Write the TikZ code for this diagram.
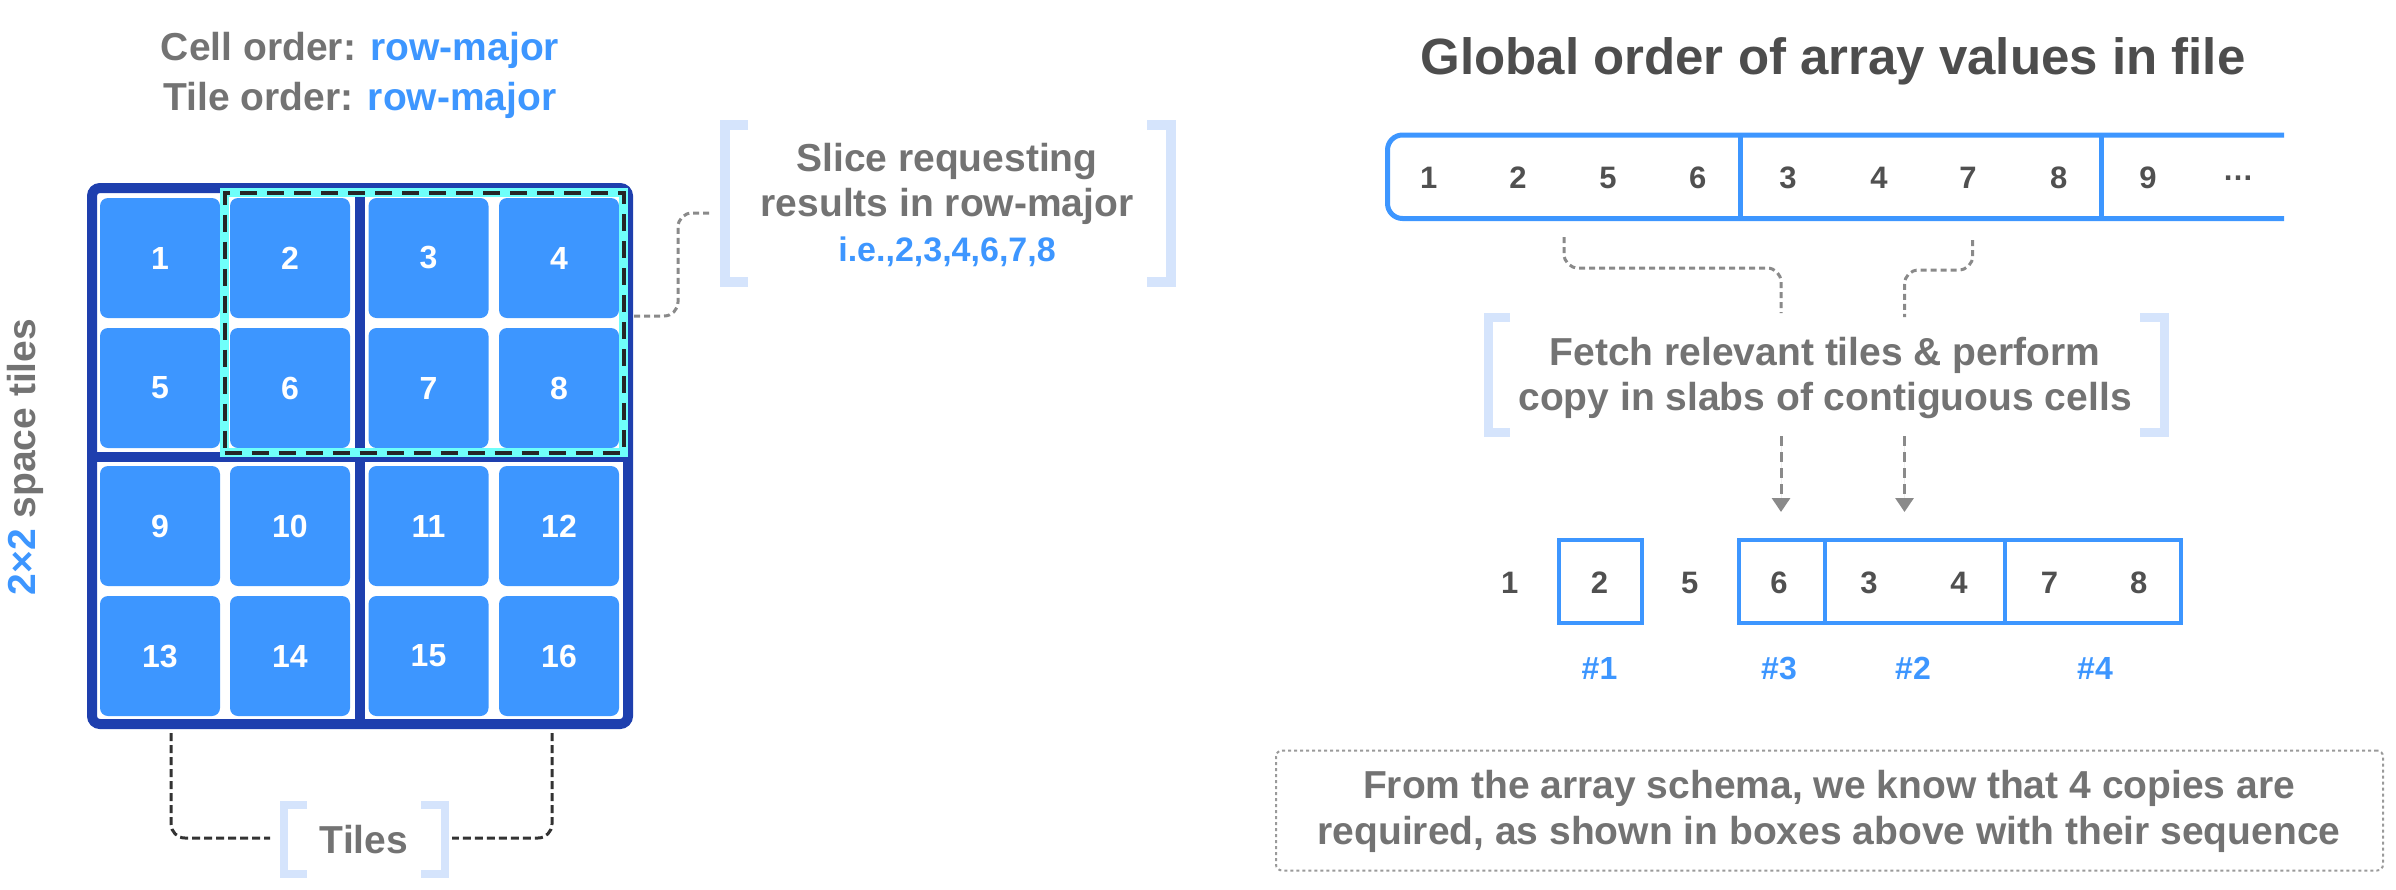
\documentclass[tikz,border=0pt]{standalone}
\usepackage{fontspec}
\setmainfont{Liberation Sans}
\usetikzlibrary{arrows.meta}
\definecolor{txtgray}{HTML}{737373}
\definecolor{titlegray}{HTML}{4D4D4D}
\definecolor{numgray}{HTML}{505050}
\definecolor{cellblue}{HTML}{3D96FF}
\definecolor{frameblue}{HTML}{1E3FAE}
\definecolor{brkblue}{HTML}{D5E4FC}
\definecolor{cyanband}{HTML}{6FFFFA}
\definecolor{conngray}{HTML}{8A8A8A}
\definecolor{darkconn}{HTML}{333333}
\definecolor{notegray}{HTML}{9A9A9A}
\tikzset{
  cell/.style={fill=cellblue, rounded corners=4pt, minimum size=60pt, inner sep=0pt, text=white, font=\bfseries\fontsize{16}{16}\selectfont},
  lbl/.style={text=txtgray, font=\bfseries\fontsize{19.5}{22.5}\selectfont, align=center, inner sep=0pt},
  brk/.style={draw=brkblue, line width=5pt, line join=miter, line cap=butt},
  gconn/.style={draw=conngray, line width=1.5pt, dash pattern=on 3pt off 2pt, rounded corners=7pt},
  dconn/.style={draw=darkconn, line width=1.5pt, dash pattern=on 4pt off 2pt, rounded corners=7pt},
  arrconn/.style={draw=conngray, line width=1.5pt, dash pattern=on 5pt off 3pt, -{Triangle[length=7pt,width=9pt]}, fill=conngray},
  numtxt/.style={text=numgray, font=\bfseries\fontsize{15.5}{15.5}\selectfont, inner sep=0pt},
  hashlbl/.style={text=cellblue, font=\bfseries\fontsize{16}{16}\selectfont, inner sep=0pt},
  blueline/.style={draw=cellblue, line width=2pt},
}
\begin{document}
\begin{tikzpicture}[x=0.5pt,y=-0.5pt]
\useasboundingbox (0,0) rectangle (2396,889);

% ---------- left: header ----------
\node[lbl] (cellord) at (360,50) {Cell order: \textcolor{cellblue}{row-major}};
\node[lbl] (tileord) at (360,100) {Tile order: \textcolor{cellblue}{row-major}};

% ---------- grid frame ----------
\node[draw=frameblue, line width=5pt, rounded corners=4pt, minimum width=268pt, minimum height=268pt, inner sep=0pt] (grid) at (360,456) {};
\draw[draw=frameblue, line width=5pt] (360,188) -- (360,724);
\draw[draw=frameblue, line width=5pt] (92,457) -- (628,457);

% cells
\foreach \n/\x/\y in {1/160/258, 2/290/258, 3/428.5/258, 4/559/258,
                      5/160/388, 6/290/388, 7/428.5/388, 8/559/388,
                      9/160/526, 10/290/526, 11/428.5/526, 12/559/526,
                      13/160/656, 14/290/656, 15/428.5/656, 16/559/656}
  \node[cell] (c\n) at (\x,\y) {\n};

% selection
\node[draw=cyanband, line width=4.5pt, minimum width=199.5pt, minimum height=130pt, inner sep=0pt] (sel) at (424,322.5) {};
\node[draw=black!85, line width=2pt, dash pattern=on 8.5pt off 5pt, minimum width=199.5pt, minimum height=130pt, inner sep=0pt] (seldash) at (424,322.5) {};

% vertical label
\node[lbl, rotate=90] (ylab) at (25,457) {\textcolor{cellblue}{2×2} space tiles};

% slice label + brackets
\node[lbl] (slice) at (947,205) {Slice requesting\\results in row-major\\{\color{cellblue}\fontsize{17}{22.5}\selectfont i.e.,2,3,4,6,7,8}};
\draw[brk] (748,125) -- (724.5,125) -- (724.5,282) -- (748,282);
\draw[brk] (1147,125) -- (1171,125) -- (1171,282) -- (1147,282);
\coordinate (selOut) at (634,316);
\coordinate (sliceIn) at (711,213);
\draw[gconn] (selOut) -- (678,316) -- (678,213) -- (sliceIn);

% tiles label + brackets
\node[lbl] (tiles) at (364,840) {Tiles};
\draw[brk, line width=4pt] (307,805) -- (283.5,805) -- (283.5,874) -- (307,874);
\draw[brk, line width=4pt] (421,805) -- (444.5,805) -- (444.5,874) -- (421,874);
\coordinate (tileL) at (171,733);
\coordinate (tileR) at (552,733);
\coordinate (tilesInL) at (270,838);
\coordinate (tilesInR) at (452,838);
\draw[dconn] (tileL) -- (171,838) -- (tilesInL);
\draw[dconn] (tileR) -- (552,838) -- (tilesInR);

% ---------- right: global order ----------
\node[text=titlegray, font=\bfseries\fontsize{25.5}{25.5}\selectfont, inner sep=0pt] (title) at (1833,61) {Global order of array values in file};

\draw[blueline, line width=2.5pt, rounded corners=7.5pt] (2284,135) -- (1387.5,135) -- (1387.5,218.5) -- (2284,218.5);
\draw[blueline, line width=2.5pt] (1740,135) -- (1740,218.5);
\draw[blueline, line width=2.5pt] (2101,135) -- (2101,218.5);
\foreach \i/\x/\t in {1/1428.6/1, 2/1518/2, 3/1608/5, 4/1697.6/6, 5/1788/3, 6/1879/4, 7/1968/7, 8/2058.6/8, 9/2148/9, 10/2238/…}
  \node[numtxt] (b\i) at (\x,178) {\t};

% connectors to fetch
\coordinate (grpA) at (1564,237);
\coordinate (grpB) at (1972.7,240);
\coordinate (fetchInA) at (1781,313);
\coordinate (fetchInB) at (1904.5,317);
\draw[gconn] (grpA) -- (1564,268) -- (1781,268) -- (fetchInA);
\draw[gconn] (grpB) -- (1972.7,270) -- (1904.5,270) -- (fetchInB);

% fetch label + brackets
\node[lbl] (fetch) at (1825,377.5) {Fetch relevant tiles \& perform\\copy in slabs of contiguous cells};
\draw[brk, line width=4.5pt] (1510,317.5) -- (1488,317.5) -- (1488,432.5) -- (1510,432.5);
\draw[brk, line width=4.5pt] (2140,317.5) -- (2164,317.5) -- (2164,432.5) -- (2140,432.5);

% arrows
\coordinate (fetchOutA) at (1781,436);
\coordinate (fetchOutB) at (1904.5,436);
\coordinate (tipA) at (1781,512);
\coordinate (tipB) at (1904.5,512);
\draw[arrconn] (fetchOutA) -- (tipA);
\draw[arrconn] (fetchOutB) -- (tipB);

% lower row
\foreach \i/\x/\t in {1/1509.7/1, 2/1599.5/2, 3/1689.8/5, 4/1779/6, 5/1869/3, 6/1959/4, 7/2049.5/7, 8/2138.8/8}
  \node[numtxt] (l\i) at (\x,583) {\t};
\draw[blueline] (1559,540) rectangle (1642,623);
\draw[blueline] (1739,540) rectangle (2181,623);
\draw[blueline] (1824.5,540) -- (1824.5,623);
\draw[blueline] (2004.5,540) -- (2004.5,623);
\node[hashlbl] (h1) at (1599.5,668) {\#1};
\node[hashlbl] (h3) at (1779,668) {\#3};
\node[hashlbl] (h2) at (1913,668) {\#2};
\node[hashlbl] (h4) at (2095,668) {\#4};

% note
\node[draw=notegray, line width=1pt, dash pattern=on 1.5pt off 1.5pt, rounded corners=3pt, minimum width=553.5pt, minimum height=60pt, inner sep=0pt] (notebox) at (1829.5,810.5) {};
\node[lbl, font=\bfseries\fontsize{19.5}{23}\selectfont] (note) at (1829,811) {From the array schema, we know that 4 copies are\\required, as shown in boxes above with their sequence};
\end{tikzpicture}
\end{document}
